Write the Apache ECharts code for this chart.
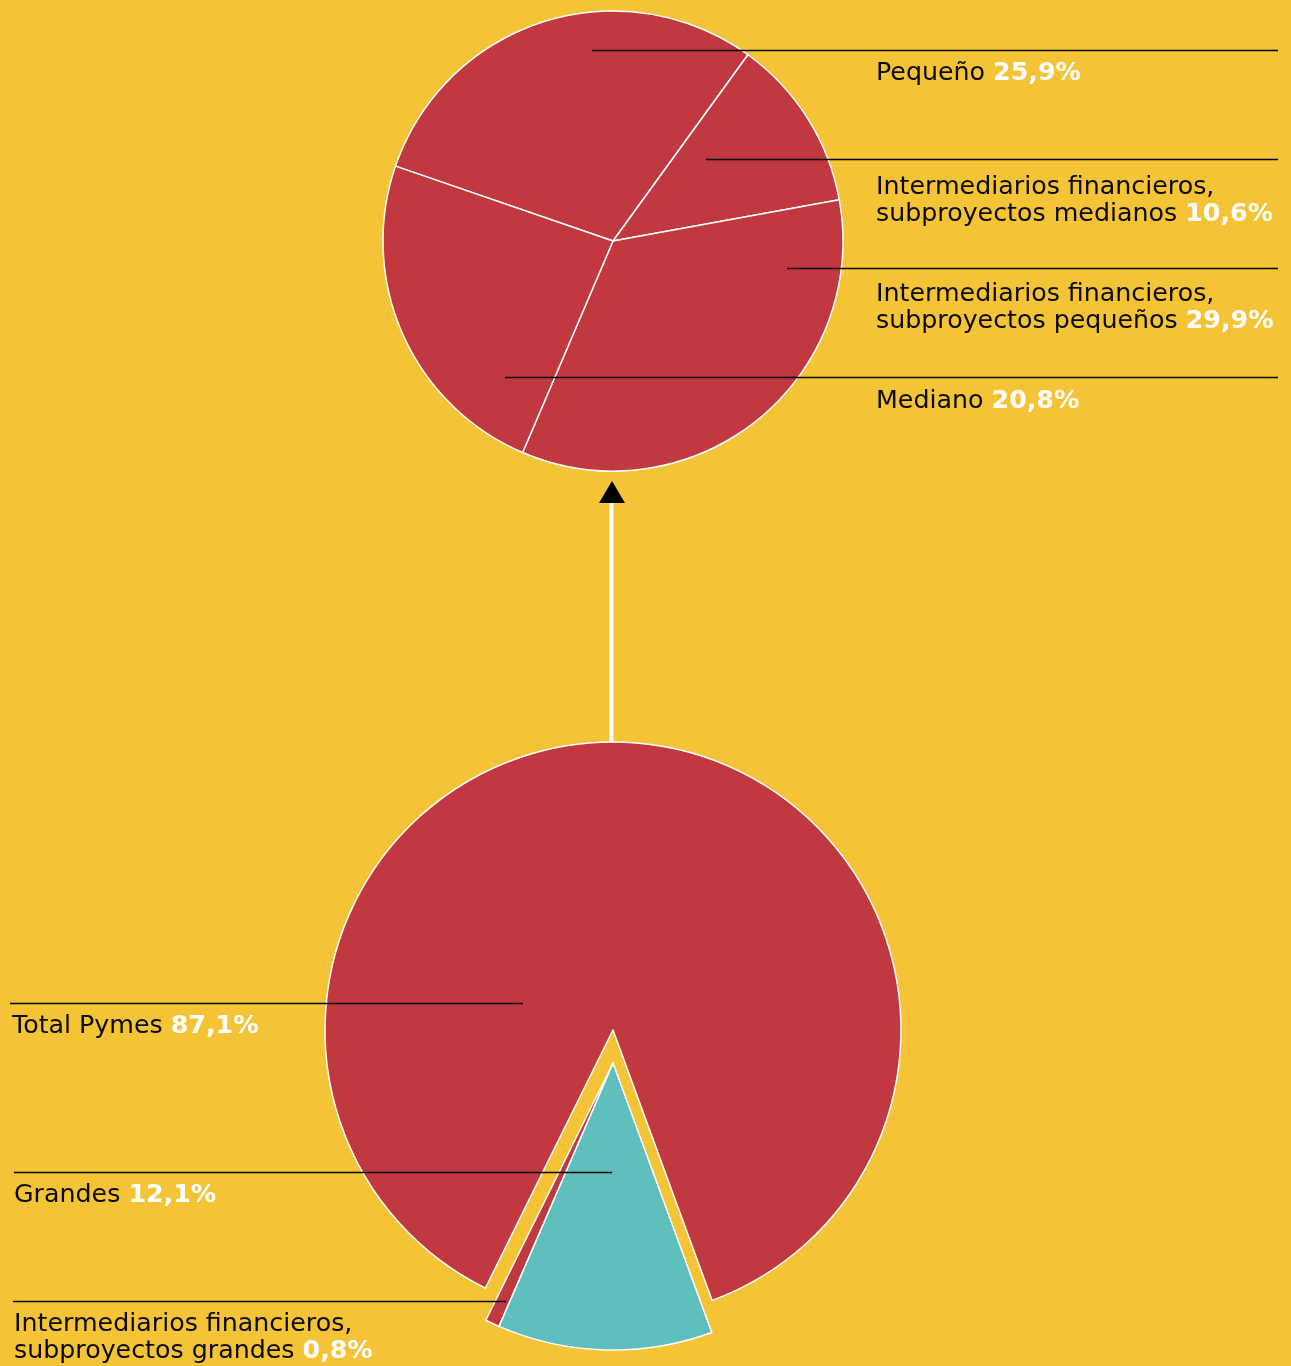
<!DOCTYPE html>
<html>
<head>
<meta charset="utf-8">
<script src="https://cdn.jsdelivr.net/npm/echarts@6/dist/echarts.min.js"></script>
<style>
html,body{margin:0;padding:0;background:#F4C436;}
#c{width:1291px;height:1366px;}
</style>
</head>
<body>
<div id="c"></div>
<script>
// ---- data ----
const topNames = ['Pequeño', 'Intermediarios financieros,\nsubproyectos medianos', 'Intermediarios financieros,\nsubproyectos pequeños', 'Mediano'];
const topValues = [25.9, 10.6, 29.9, 20.8];
const bottomNames = ['Total Pymes', 'Grandes', 'Intermediarios financieros,\nsubproyectos grandes'];
const bottomValues = [87.1, 12.1, 0.8];

// ---- layout (label positions) ----
const topLabelPos = [
  {x: 876, y: 60, lx0: 592, lx1: 1278, ly: 50.5},
  {x: 876, y: 173.5, lx0: 706, lx1: 1278, ly: 159.5},
  {x: 876, y: 280.5, lx0: 787, lx1: 1278, ly: 268.5},
  {x: 876, y: 388, lx0: 505, lx1: 1278, ly: 377.5}
];
const bottomLabelPos = [
  {x: 12, y: 1013, lx0: 523, lx1: 10, ly: 1003.5},
  {x: 14, y: 1182, lx0: 612, lx1: 14, ly: 1172.5},
  {x: 14, y: 1311, lx0: 506, lx1: 13, ly: 1301.5}
];

const RED = '#C23840', TEAL = '#5EBFBD', CLEAR = 'rgba(0,0,0,0)';
const FONT = 'DejaVu Sans';

function fmt(v){ return v.toFixed(1).replace('.', ',') + '%'; }
function labelText(name, v){
  const lines = name.split('\n');
  return lines.map((l, i) => i === lines.length - 1 ? '{n|' + l + ' }{v|' + fmt(v) + '}' : '{n|' + l + '}').join('\n');
}
const rich = {
  n: {fontFamily: FONT, fontSize: 25.3, color: '#0a0a0a', lineHeight: 27},
  v: {fontFamily: FONT, fontSize: 25.3, color: '#fff', fontWeight: 'bold', lineHeight: 27}
};
function layoutFn(posArr){
  return function(params){
    const p = posArr[params.dataIndex];
    return {
      x: p.x, y: p.y, align: 'left', verticalAlign: 'top',
      labelLinePoints: [[p.lx0, p.ly], [(p.lx0 + p.lx1) / 2, p.ly], [p.lx1, p.ly]]
    };
  };
}
const showLabel = {show: true, formatter: (p) => labelText(p.name, p.value), rich: rich};
const showLine = {show: true, lineStyle: {color: '#000', width: 1.5}, smooth: false};
const common = {type: 'pie', clockwise: true, avoidLabelOverlap: false, silent: true, emphasis: {disabled: true}};

// colored slices
const topData = topNames.map((n, i) => ({name: n, value: topValues[i], itemStyle: {color: RED}}));
const bottomDataMain = bottomNames.map((n, i) => ({name: n, value: bottomValues[i],
  itemStyle: i === 0 ? {color: RED} : {color: CLEAR, borderWidth: 0}}));
const bottomDataOff = bottomNames.map((n, i) => ({name: n, value: bottomValues[i],
  itemStyle: i === 0 ? {color: CLEAR, borderWidth: 0} : {color: i === 1 ? TEAL : RED}}));
// transparent overlays carrying labels + leader lines on top of the slices
const topOverlay = topNames.map((n, i) => ({name: n, value: topValues[i]}));
const bottomOverlay = bottomNames.map((n, i) => ({name: n, value: bottomValues[i]}));

const chart = echarts.init(document.getElementById('c'), null, {renderer: 'canvas'});
chart.setOption({
  backgroundColor: '#F4C436',
  animation: false,
  graphic: [
    {type: 'line', shape: {x1: 611.5, y1: 745, x2: 611.5, y2: 500}, style: {stroke: '#fff', lineWidth: 4}, z: 1},
    {type: 'polygon', shape: {points: [[612, 481], [599, 503], [625, 503]]}, style: {fill: '#000'}, z: 1}
  ],
  series: [
    Object.assign({}, common, {
      center: [613, 241], radius: 230, startAngle: 161,
      itemStyle: {borderColor: '#fff', borderWidth: 1.5},
      label: {show: false}, labelLine: {show: false}, data: topData, z: 3
    }),
    Object.assign({}, common, {
      center: [613, 1030], radius: 288, startAngle: 243.7,
      itemStyle: {borderColor: '#fff', borderWidth: 1.5},
      label: {show: false}, labelLine: {show: false}, data: bottomDataMain, z: 3
    }),
    Object.assign({}, common, {
      center: [613, 1063], radius: 287, startAngle: 243.7,
      itemStyle: {borderColor: '#fff', borderWidth: 1.5},
      label: {show: false}, labelLine: {show: false}, data: bottomDataOff, z: 4
    }),
    Object.assign({}, common, {
      center: [613, 241], radius: 230, startAngle: 161,
      itemStyle: {color: CLEAR, borderWidth: 0},
      label: showLabel, labelLine: showLine, labelLayout: layoutFn(topLabelPos),
      data: topOverlay, z: 10
    }),
    Object.assign({}, common, {
      center: [613, 1030], radius: 288, startAngle: 243.7,
      itemStyle: {color: CLEAR, borderWidth: 0},
      label: showLabel, labelLine: showLine, labelLayout: layoutFn(bottomLabelPos),
      data: bottomOverlay, z: 10
    })
  ]
});
</script>
</body>
</html>
